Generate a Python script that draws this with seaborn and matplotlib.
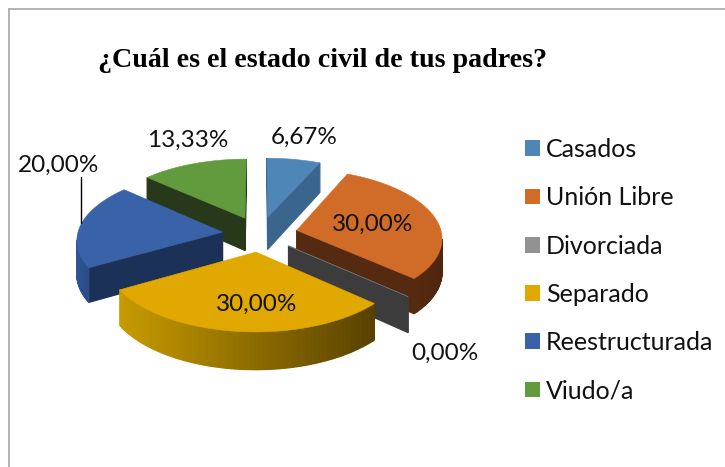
import numpy as np
import matplotlib
matplotlib.use("Agg")
import matplotlib.pyplot as plt
from matplotlib.patches import Patch, Polygon
import seaborn as sns

# --- data ---
categories = ["Casados", "Unión Libre", "Divorciada", "Separado", "Reestructurada", "Viudo/a"]
values = [6.67, 30.00, 0.00, 30.00, 20.00, 13.33]
title = "¿Cuál es el estado civil de tus padres?"

# colours: top face, cut face, rim (left to right)
top_colors = ["#4f86b8", "#d06c28", "#929292", "#e0a800", "#3a62a8", "#629a3e"]
cut_colors = ["#3a668e", "#552a10", "#3c3c3c", "#5c4500", "#1c3157", "#27391a"]
rim_colors = [("#3a668e", "#3a668e"), ("#6a3514", "#4e260e"), ("#3c3c3c", "#3c3c3c"),
              ("#c69a00", "#574100"), ("#2f5597", "#1c3157"), ("#27391a", "#27391a")]

# label centres in pixels
label_pos = [(304, 137), (373, 224), (445, 353), (257, 304), (59, 165), (188, 140)]

# projection of the flat pie onto the page
CX, CY = 260, 234
RX, RY = 145, 68
PERSP = 0.10
DEPTH = 33
EXPLODE = 0.26

sns.set_theme(style="white")
plt.rcParams["font.family"] = ["Lato", "DejaVu Sans"]

fig = plt.figure(figsize=(7.25, 4.67), dpi=100)

# the pie itself only gives the wedge geometry, it gets projected below
pie_ax = fig.add_axes([0, 0, 0.1, 0.1])
wedges, _ = pie_ax.pie(values, startangle=90, counterclock=False, explode=[EXPLODE] * len(values))
pie_ax.set_visible(False)

ax = fig.add_axes([0, 0, 1, 1])
ax.set_xlim(0, 725)
ax.set_ylim(467, 0)
ax.axis("off")


def project(u, v):
    w = 1 + PERSP * v
    return CX + RX * u / w, CY - RY * v / w, DEPTH / w


def side_quad(p0, p1, color, z):
    x0, y0, d0 = project(*p0)
    x1, y1, d1 = project(*p1)
    if x1 <= x0:  # faces away from us
        return
    ax.add_patch(Polygon([(x0, y0), (x1, y1), (x1, y1 + d1), (x0, y0 + d0)],
                         closed=True, facecolor=color, edgecolor=color, lw=0.9, zorder=z))


# back to front
draw_order = [5, 0, 4, 1, 2, 3]
for z, i in enumerate(draw_order):
    wd = wedges[i]
    cu, cv = wd.center
    ang = np.radians(np.linspace(wd.theta1, wd.theta2, 120))
    rim = np.column_stack([cu + wd.r * np.cos(ang), cv + wd.r * np.sin(ang)])
    apex = (cu, cv)

    side_quad(apex, rim[0], cut_colors[i], z * 3 + 1)
    side_quad(rim[-1], apex, cut_colors[i], z * 3 + 1)

    # rim shading follows screen x, so go by the projected position
    xs = project(rim[:, 0], rim[:, 1])[0]
    shades = sns.blend_palette(rim_colors[i], 64)
    span = max(xs.max() - xs.min(), 1)
    for k in range(len(rim) - 1):
        idx = int((xs[k] - xs.min()) / span * 63)
        side_quad(rim[k], rim[k + 1], shades[idx], z * 3 + 1)

    outline = np.vstack([apex, rim])
    px, py, _ = project(outline[:, 0], outline[:, 1])
    ax.add_patch(Polygon(np.column_stack([px, py]), closed=True, facecolor=top_colors[i],
                         edgecolor=top_colors[i], lw=0.4, zorder=z * 3 + 2))

# data labels
for val, (lx, ly) in zip(values, label_pos):
    ax.text(lx, ly, f"{val:.2f}%".replace(".", ","), ha="center", va="center",
            fontsize=17.5, color="#111111", zorder=40)

# leader line for the 20 % label
ax.plot([81, 81], [177, 223], color="black", lw=1, zorder=40)

# chart frame
ax.plot([9, 9], [467, 9], color="#a6a6a6", lw=1.2, zorder=0)
ax.plot([9, 725], [9, 9], color="#a6a6a6", lw=1.2, zorder=0)

ax.text(98, 67, title, family="Liberation Serif", fontweight="bold", fontsize=20.2,
        color="black", ha="left", va="baseline", zorder=40)

handles = [Patch(facecolor=c, edgecolor="none") for c in top_colors]
ax.legend(handles, categories, loc="upper left", bbox_to_anchor=(525 / 725, 1 - 138 / 467),
          frameon=False, fontsize=18, labelcolor="#111111", handlelength=0.6, handleheight=0.6,
          handletextpad=0.25, labelspacing=1.01, borderpad=0, borderaxespad=0)

fig.savefig("out.png", dpi=100)
